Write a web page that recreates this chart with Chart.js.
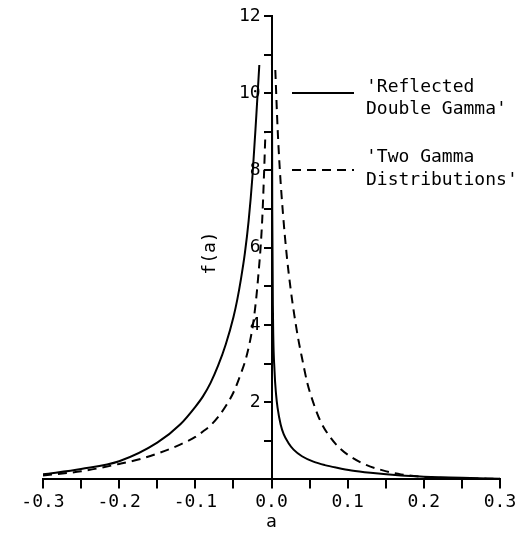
<!DOCTYPE html>
<html>
<head>
<meta charset="utf-8">
<script src="https://cdn.jsdelivr.net/npm/chart.js@4/dist/chart.umd.min.js"></script>
<style>
  html, body { margin: 0; padding: 0; background: #fff; }
  #wrap { width: 525px; height: 533px; }
</style>
</head>
<body>
<div id="wrap"><canvas id="chart" width="525" height="533"></canvas></div>
<script>
// values
const reflLeftX  = [-0.30, -0.25, -0.20, -0.15, -0.12, -0.10, -0.09, -0.08, -0.07, -0.06, -0.05, -0.045, -0.040, -0.035, -0.030, -0.025, -0.020, -0.016];
const reflLeftY  = [0.13, 0.27, 0.47, 0.95, 1.42, 1.88, 2.15, 2.5, 2.95, 3.5, 4.2, 4.65, 5.2, 5.85, 6.7, 7.85, 9.4, 10.73];
const reflRightX = [0.0006, 0.001, 0.002, 0.004, 0.006, 0.008, 0.012, 0.016, 0.022, 0.029, 0.040, 0.055, 0.070, 0.086, 0.105, 0.130, 0.170, 0.200, 0.250, 0.300];
const reflRightY = [10.9, 7.0, 4.2, 2.8, 2.2, 1.85, 1.42, 1.17, 0.95, 0.77, 0.6, 0.46, 0.37, 0.3, 0.23, 0.17, 0.1, 0.07, 0.04, 0.02];
const twoLeftX   = [-0.30, -0.25, -0.20, -0.17, -0.14, -0.12, -0.10, -0.09, -0.08, -0.07, -0.06, -0.05, -0.04, -0.034, -0.028, -0.024, -0.020, -0.017, -0.014, -0.012, -0.010, -0.008];
const twoLeftY   = [0.1, 0.21, 0.4, 0.54, 0.74, 0.9, 1.1, 1.24, 1.4, 1.62, 1.9, 2.25, 2.75, 3.1, 3.6, 4.05, 4.7, 5.35, 6.1, 6.8, 7.8, 8.96];
const twoRightX  = [0.005, 0.008, 0.011, 0.015, 0.020, 0.025, 0.030, 0.035, 0.040, 0.047, 0.055, 0.064, 0.075, 0.090, 0.107, 0.125, 0.145, 0.170, 0.200, 0.250, 0.300];
const twoRightY  = [10.6, 9.1, 8.0, 6.9, 5.8, 4.95, 4.25, 3.65, 3.15, 2.5, 1.98, 1.52, 1.15, 0.8, 0.55, 0.37, 0.24, 0.13, 0.065, 0.03, 0.015];
const legendLabels = [["'Reflected", "Double Gamma'"], ["'Two Gamma", "Distributions'"]];
const xTitle = 'a';
const yTitle = 'f(a)';

const FONT = "'DejaVu Sans Mono', monospace";

function pts(xs, ys) { return xs.map((x, i) => ({ x: x, y: ys[i] })); }

function series(xs, ys, dashed) {
  return {
    data: pts(xs, ys),
    showLine: true,
    borderColor: '#000',
    borderWidth: 2,
    borderDash: dashed ? [9, 6] : [],
    pointRadius: 0,
    cubicInterpolationMode: 'monotone',
    fill: false
  };
}

// legend and y title drawn by hand: the original has line samples with two-line labels
// and a y title that sits left of an axis placed at a = 0
const sideLegend = {
  id: 'sideLegend',
  afterDatasetsDraw(chart) {
    const ctx = chart.ctx;
    const rows = [{ y: 93, dash: [], ty: [87, 109] }, { y: 170, dash: [9, 6], ty: [157, 180] }];
    ctx.save();
    ctx.strokeStyle = '#000';
    ctx.lineWidth = 2;
    ctx.fillStyle = '#000';
    ctx.font = '18px ' + FONT;
    ctx.textBaseline = 'middle';
    ctx.textAlign = 'left';
    rows.forEach((r, i) => {
      ctx.setLineDash(r.dash);
      ctx.beginPath();
      ctx.moveTo(292, r.y);
      ctx.lineTo(354, r.y);
      ctx.stroke();
      ctx.fillText(legendLabels[i][0], 366, r.ty[0]);
      ctx.fillText(legendLabels[i][1], 366, r.ty[1]);
    });
    // y title
    ctx.translate(210, 253);
    ctx.rotate(-Math.PI / 2);
    ctx.textAlign = 'center';
    ctx.fillText(yTitle, 0, 0);
    ctx.restore();
  }
};

new Chart(document.getElementById('chart'), {
  type: 'scatter',
  data: {
    datasets: [
      series(reflLeftX, reflLeftY, false),
      series(reflRightX, reflRightY, false),
      series(twoLeftX, twoLeftY, true),
      series(twoRightX, twoRightY, true)
    ]
  },
  options: {
    responsive: false,
    animation: false,
    layout: { padding: { left: 43, right: 25, top: 16, bottom: 0 } },
    plugins: { legend: { display: false }, tooltip: { enabled: false } },
    scales: {
      x: {
        type: 'linear',
        min: -0.3, max: 0.3,
        border: { color: '#000', width: 2 },
        grid: { drawOnChartArea: false, color: '#000', lineWidth: 2, tickLength: 9 },
        ticks: {
          stepSize: 0.05,
          color: '#000',
          font: { family: FONT, size: 18, lineHeight: 1 },
          padding: 5,
          maxRotation: 0,
          autoSkip: false,
          callback: v => Math.round(v * 100) % 10 === 0 ? (Math.abs(v) < 1e-9 ? '0.0' : v.toFixed(1)) : ''
        },
        title: { display: true, text: xTitle, color: '#000', font: { family: FONT, size: 18, lineHeight: 0.7 }, padding: { top: 0, bottom: 4 } }
      },
      y: {
        type: 'linear',
        position: { x: 0 },
        min: 0, max: 12,
        border: { color: '#000', width: 2 },
        grid: { drawOnChartArea: false, color: '#000', lineWidth: 2, tickLength: 7 },
        ticks: {
          stepSize: 1,
          color: '#000',
          font: { family: FONT, size: 18 },
          autoSkip: false,
          // trailing space keeps the label clear of the tick mark
          callback: v => (v % 2 === 0 && v !== 0) ? String(v) + ' ' : ''
        }
      }
    }
  },
  plugins: [sideLegend]
});
</script>
</body>
</html>
